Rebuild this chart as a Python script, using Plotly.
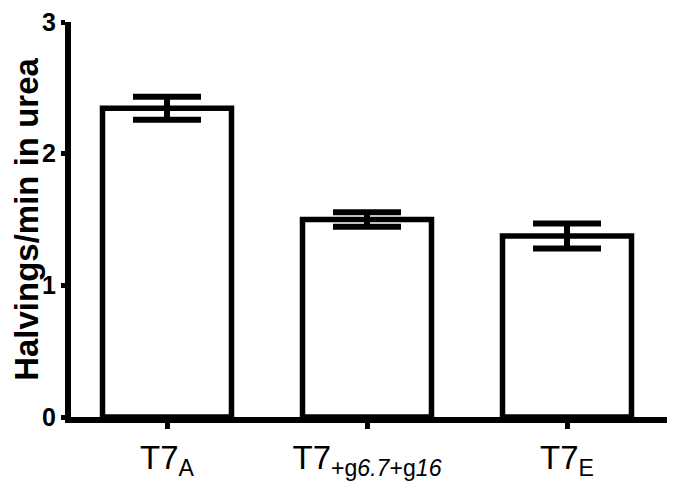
import plotly.graph_objects as go

# data
categories = ["T7<sub>A</sub>",
              "T7<sub>+g<i>6.7</i>+g<i>16</i></sub>",
              "T7<sub>E</sub>"]
means = [2.345, 1.50, 1.375]
errors = [0.088, 0.055, 0.095]
y_ticks = [0, 1, 2, 3]

fig = go.Figure()
fig.add_trace(go.Bar(
    x=list(range(len(categories))),
    y=means,
    width=0.645,
    marker=dict(color="white", line=dict(color="black", width=5.5)),
    error_y=dict(type="data", array=errors, visible=True,
                 color="black", thickness=6, width=34),
))

# page body has an 8px margin, so the figure is a bit smaller than the window
fig.update_layout(
    width=669, height=478,
    margin=dict(l=63, r=10, t=14, b=69),
    paper_bgcolor="white", plot_bgcolor="white",
    showlegend=False,
    font=dict(family="Liberation Sans, Arial", color="black"),
)
fig.update_xaxes(
    range=[-0.48, 2.5], automargin=False,
    tickmode="array", tickvals=list(range(len(categories))), ticktext=categories,
    tickfont=dict(size=33),
    showline=True, linecolor="black", linewidth=6,
    ticks="outside", ticklen=6, tickwidth=5, tickcolor="black",
    ticklabelstandoff=0,
    showgrid=False, zeroline=False,
)
fig.update_yaxes(
    range=[0, 3], automargin=False,
    tickmode="array", tickvals=y_ticks,
    ticktext=["<b>%d</b>" % v for v in y_ticks],
    tickfont=dict(size=25),
    ticklabeloverflow="allow",
    title=dict(text="<b>Halvings/min in urea</b>", font=dict(size=33), standoff=4),
    showline=True, linecolor="black", linewidth=6,
    ticks="outside", ticklen=4, tickwidth=5, tickcolor="black",
    ticklabelstandoff=0,
    showgrid=False, zeroline=False,
)

fig.write_html("out.html")
